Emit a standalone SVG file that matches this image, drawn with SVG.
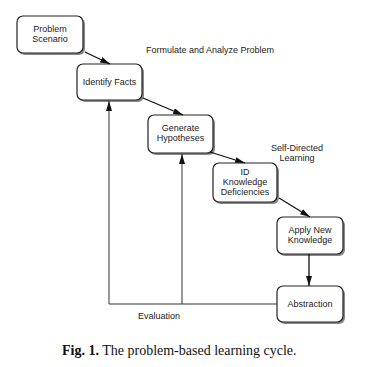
<svg xmlns="http://www.w3.org/2000/svg" width="381" height="367" viewBox="0 0 381 367">
<style>
.box{fill:#fff;stroke:#222;stroke-width:1.2}
.sh{fill:#888}
.t{font-family:"Liberation Sans",Arial,sans-serif;font-size:9px;fill:#222;text-anchor:middle}
.c{stroke:#111;stroke-width:1.3;fill:none}
.e{stroke:#333;stroke-width:1;fill:none}
</style>
<defs>
<marker id="ah" viewBox="0 0 10 6" refX="10" refY="3" markerWidth="10" markerHeight="6" markerUnits="userSpaceOnUse" orient="auto">
<path d="M0,0 L10,3 L0,6 Z" fill="#111"/>
</marker>
</defs>
<rect width="381" height="367" fill="#fff"/>
<g id="n1">
<rect class="sh" x="19" y="18" width="66" height="37" rx="6"/>
<rect class="box" x="17" y="16" width="66" height="37" rx="6"/>
<text class="t" x="50" y="32">Problem</text>
<text class="t" x="50" y="42">Scenario</text>
</g>
<g id="n2">
<rect class="sh" x="79" y="66" width="65" height="36" rx="6"/>
<rect class="box" x="77" y="64" width="65" height="36" rx="6"/>
<text class="t" x="109.5" y="85">Identify Facts</text>
</g>
<g id="n3">
<rect class="sh" x="150" y="117" width="65" height="38" rx="6"/>
<rect class="box" x="148" y="115" width="65" height="38" rx="6"/>
<text class="t" x="180.5" y="131">Generate</text>
<text class="t" x="180.5" y="141">Hypotheses</text>
</g>
<g id="n4">
<rect class="sh" x="215" y="165" width="64" height="39" rx="6"/>
<rect class="box" x="213" y="163" width="64" height="39" rx="6"/>
<text class="t" x="245" y="175">ID</text>
<text class="t" x="245" y="185">Knowledge</text>
<text class="t" x="245" y="195">Deficiencies</text>
</g>
<g id="n5">
<rect class="sh" x="279" y="219" width="66" height="37" rx="6"/>
<rect class="box" x="277" y="217" width="66" height="37" rx="6"/>
<text class="t" x="310" y="233">Apply  New</text>
<text class="t" x="310" y="243">Knowledge</text>
</g>
<g id="n6">
<rect class="sh" x="279" y="288" width="66" height="36" rx="6"/>
<rect class="box" x="277" y="286" width="66" height="36" rx="6"/>
<text class="t" x="310" y="307">Abstraction</text>
</g>
<g id="connectors">
<line class="c" x1="85" y1="52" x2="110" y2="64" marker-end="url(#ah)"/>
<line class="c" x1="143" y1="98" x2="183" y2="115" marker-end="url(#ah)"/>
<line class="c" x1="210" y1="152" x2="245" y2="163" marker-end="url(#ah)"/>
<line class="c" x1="279" y1="198" x2="310" y2="217" marker-end="url(#ah)"/>
<line class="c" x1="309" y1="254" x2="309" y2="286" marker-end="url(#ah)"/>
<polyline class="e" points="277,304 109,304 109,101" marker-end="url(#ah)"/>
<line class="e" x1="182" y1="304" x2="182" y2="154" marker-end="url(#ah)"/>
</g>
<text class="t" x="210" y="53">Formulate and Analyze Problem</text>
<text class="t" x="297" y="151">Self-Directed</text>
<text class="t" x="297" y="161">Learning</text>
<text class="t" x="159" y="319">Evaluation</text>
<text x="62" y="355" font-family="'Liberation Serif','Times New Roman',serif" font-size="14" fill="#111"><tspan font-weight="bold">Fig. 1.</tspan> The problem-based learning cycle.</text>
</svg>
